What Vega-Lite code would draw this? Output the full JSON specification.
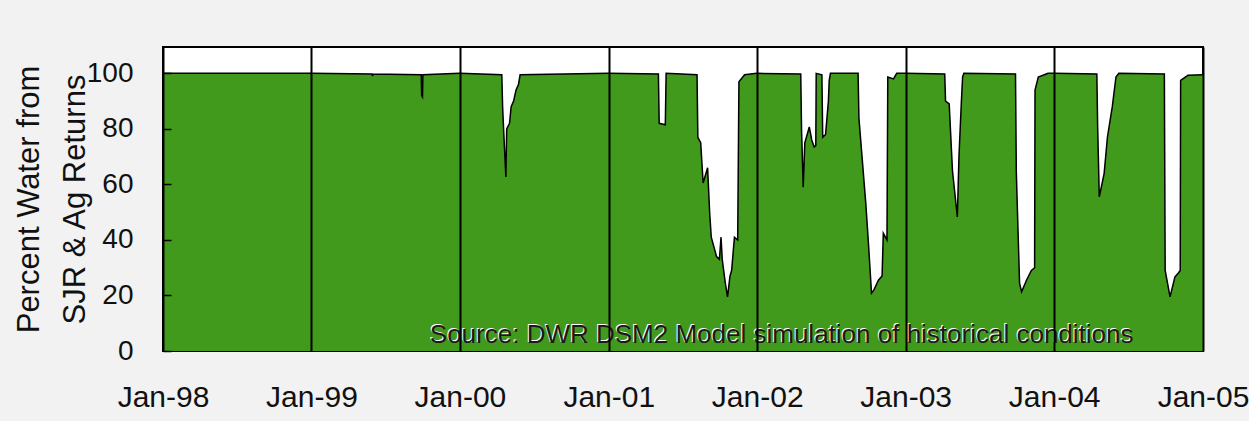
{
  "$schema": "https://vega.github.io/schema/vega-lite/v6.json",
  "width": 1040,
  "height": 304,
  "autosize": "none",
  "padding": {"left": 163, "top": 47, "right": 46, "bottom": 70},
  "background": "#f2f2f2",
  "config": {
    "view": {"stroke": "#000000", "strokeWidth": 2, "fill": "#ffffff"},
    "font": "Liberation Sans"
  },
  "datasets": {
    "series": [
      {"date": "1998-01-01", "pct": 100},
      {"date": "1998-12-31", "pct": 100},
      {"date": "1999-01-01", "pct": 100},
      {"date": "1999-05-30", "pct": 99.8},
      {"date": "1999-05-31", "pct": 99},
      {"date": "1999-06-01", "pct": 99.8},
      {"date": "1999-09-28", "pct": 99.5},
      {"date": "1999-09-29", "pct": 92},
      {"date": "1999-10-01", "pct": 91.5},
      {"date": "1999-10-02", "pct": 99.5},
      {"date": "1999-12-31", "pct": 100},
      {"date": "2000-01-01", "pct": 100},
      {"date": "2000-04-13", "pct": 99.5},
      {"date": "2000-04-15", "pct": 88},
      {"date": "2000-04-18", "pct": 78},
      {"date": "2000-04-23", "pct": 62.7},
      {"date": "2000-04-25", "pct": 80},
      {"date": "2000-05-02", "pct": 82},
      {"date": "2000-05-06", "pct": 88},
      {"date": "2000-05-12", "pct": 90},
      {"date": "2000-05-18", "pct": 94},
      {"date": "2000-05-24", "pct": 96},
      {"date": "2000-05-28", "pct": 99.5},
      {"date": "2000-12-31", "pct": 100},
      {"date": "2001-01-01", "pct": 100},
      {"date": "2001-05-03", "pct": 99.8},
      {"date": "2001-05-05", "pct": 82},
      {"date": "2001-05-20", "pct": 81.5},
      {"date": "2001-05-22", "pct": 100},
      {"date": "2001-08-06", "pct": 99.5},
      {"date": "2001-08-08", "pct": 77},
      {"date": "2001-08-15", "pct": 75},
      {"date": "2001-08-21", "pct": 60.5},
      {"date": "2001-09-01", "pct": 66},
      {"date": "2001-09-06", "pct": 50},
      {"date": "2001-09-10", "pct": 41},
      {"date": "2001-09-23", "pct": 34},
      {"date": "2001-09-30", "pct": 33},
      {"date": "2001-10-04", "pct": 41},
      {"date": "2001-10-07", "pct": 33},
      {"date": "2001-10-14", "pct": 25},
      {"date": "2001-10-20", "pct": 19.5},
      {"date": "2001-10-26", "pct": 27},
      {"date": "2001-10-30", "pct": 29},
      {"date": "2001-11-06", "pct": 41},
      {"date": "2001-11-14", "pct": 40},
      {"date": "2001-11-17", "pct": 97},
      {"date": "2001-12-01", "pct": 99.5},
      {"date": "2001-12-31", "pct": 100},
      {"date": "2002-01-01", "pct": 100},
      {"date": "2002-04-18", "pct": 99.8},
      {"date": "2002-04-20", "pct": 79.5},
      {"date": "2002-04-24", "pct": 59},
      {"date": "2002-04-28", "pct": 75},
      {"date": "2002-05-09", "pct": 80.7},
      {"date": "2002-05-15", "pct": 76},
      {"date": "2002-05-21", "pct": 73.5},
      {"date": "2002-05-25", "pct": 74},
      {"date": "2002-05-26", "pct": 100},
      {"date": "2002-06-09", "pct": 99.5},
      {"date": "2002-06-11", "pct": 77},
      {"date": "2002-06-18", "pct": 78},
      {"date": "2002-06-25", "pct": 90},
      {"date": "2002-06-27", "pct": 97.5},
      {"date": "2002-06-30", "pct": 100},
      {"date": "2002-09-06", "pct": 100},
      {"date": "2002-09-08", "pct": 84},
      {"date": "2002-09-17", "pct": 67.6},
      {"date": "2002-09-25", "pct": 53},
      {"date": "2002-10-02", "pct": 37.5},
      {"date": "2002-10-09", "pct": 20.8},
      {"date": "2002-10-15", "pct": 22},
      {"date": "2002-10-26", "pct": 25.5},
      {"date": "2002-11-04", "pct": 27},
      {"date": "2002-11-07", "pct": 42.4},
      {"date": "2002-11-16", "pct": 40},
      {"date": "2002-11-18", "pct": 98.7},
      {"date": "2002-12-02", "pct": 98},
      {"date": "2002-12-10", "pct": 100},
      {"date": "2002-12-31", "pct": 100},
      {"date": "2003-01-01", "pct": 100},
      {"date": "2003-04-07", "pct": 99.8},
      {"date": "2003-04-09", "pct": 90},
      {"date": "2003-04-18", "pct": 89},
      {"date": "2003-04-26", "pct": 65},
      {"date": "2003-05-08", "pct": 48.3},
      {"date": "2003-05-12", "pct": 70},
      {"date": "2003-05-18", "pct": 90},
      {"date": "2003-05-21", "pct": 98.7},
      {"date": "2003-05-24", "pct": 100},
      {"date": "2003-09-28", "pct": 99.8},
      {"date": "2003-09-30", "pct": 64.5},
      {"date": "2003-10-08", "pct": 24.4},
      {"date": "2003-10-13", "pct": 21.3},
      {"date": "2003-10-25", "pct": 25.5},
      {"date": "2003-11-06", "pct": 29},
      {"date": "2003-11-14", "pct": 30},
      {"date": "2003-11-15", "pct": 94},
      {"date": "2003-11-23", "pct": 98.7},
      {"date": "2003-12-17", "pct": 100},
      {"date": "2003-12-31", "pct": 100},
      {"date": "2004-01-01", "pct": 100},
      {"date": "2004-04-15", "pct": 99.8},
      {"date": "2004-04-17", "pct": 80.7},
      {"date": "2004-04-21", "pct": 55.5},
      {"date": "2004-05-03", "pct": 64},
      {"date": "2004-05-11", "pct": 77},
      {"date": "2004-05-23", "pct": 88},
      {"date": "2004-06-01", "pct": 98.7},
      {"date": "2004-06-08", "pct": 100},
      {"date": "2004-09-28", "pct": 99.8},
      {"date": "2004-09-30", "pct": 29},
      {"date": "2004-10-12", "pct": 19.5},
      {"date": "2004-10-24", "pct": 26.7},
      {"date": "2004-11-01", "pct": 28},
      {"date": "2004-11-06", "pct": 29},
      {"date": "2004-11-07", "pct": 97.5},
      {"date": "2004-11-25", "pct": 99.3},
      {"date": "2005-01-01", "pct": 99.5}
    ],
    "note": [
      {"date": "1999-10-19", "pct": 5.75, "label": "Source: DWR DSM2 Model simulation of historical conditions"}
    ]
  },
  "encoding": {
    "x": {
      "field": "date",
      "type": "temporal",
      "scale": {
        "type": "utc",
        "domain": [
          {"year": 1998, "month": 1, "date": 1, "utc": true},
          {"year": 2005, "month": 1, "date": 1, "utc": true}
        ]
      },
      "axis": {
        "title": null,
        "format": "%b-%y",
        "values": [
          {"year": 1998, "month": 1, "date": 1, "utc": true},
          {"year": 1999, "month": 1, "date": 1, "utc": true},
          {"year": 2000, "month": 1, "date": 1, "utc": true},
          {"year": 2001, "month": 1, "date": 1, "utc": true},
          {"year": 2002, "month": 1, "date": 1, "utc": true},
          {"year": 2003, "month": 1, "date": 1, "utc": true},
          {"year": 2004, "month": 1, "date": 1, "utc": true},
          {"year": 2005, "month": 1, "date": 1, "utc": true}
        ],
        "grid": true,
        "gridColor": "#000000",
        "gridWidth": 2,
        "gridOpacity": 1,
        "ticks": false,
        "domain": false,
        "labelFontSize": 30,
        "labelColor": "#111111",
        "labelPadding": 31,
        "labelFlush": false,
        "labelOverlap": false,
        "zindex": 1
      }
    },
    "y": {
      "field": "pct",
      "type": "quantitative",
      "scale": {"domain": [0, 109.5], "nice": false, "zero": true},
      "axis": {
        "title": ["Percent Water from", "SJR & Ag Returns"],
        "titleFontSize": 31,
        "titleFontWeight": "normal",
        "titleColor": "#111111",
        "titleLineHeight": 46,
        "titlePadding": -5,
        "values": [0, 20, 40, 60, 80, 100],
        "grid": false,
        "domain": false,
        "ticks": true,
        "tickSize": -8,
        "tickColor": "#000000",
        "tickWidth": 1.5,
        "labelFontSize": 28,
        "labelColor": "#111111",
        "labelPadding": 38,
        "zindex": 1
      }
    }
  },
  "layer": [
    {
      "data": {"name": "series"},
      "mark": {"type": "area", "color": "#419a1c", "interpolate": "linear"}
    },
    {
      "data": {"name": "series"},
      "mark": {"type": "line", "color": "#000000", "strokeWidth": 1.5, "interpolate": "linear"}
    },
    {
      "data": {"name": "note"},
      "mark": {"type": "text", "align": "left", "baseline": "middle", "fontSize": 26, "color": "#ffffff", "dx": -1, "dy": -1},
      "encoding": {"text": {"field": "label"}}
    },
    {
      "data": {"name": "note"},
      "mark": {"type": "text", "align": "left", "baseline": "middle", "fontSize": 26, "color": "#1a1a1a"},
      "encoding": {"text": {"field": "label"}}
    }
  ]
}
